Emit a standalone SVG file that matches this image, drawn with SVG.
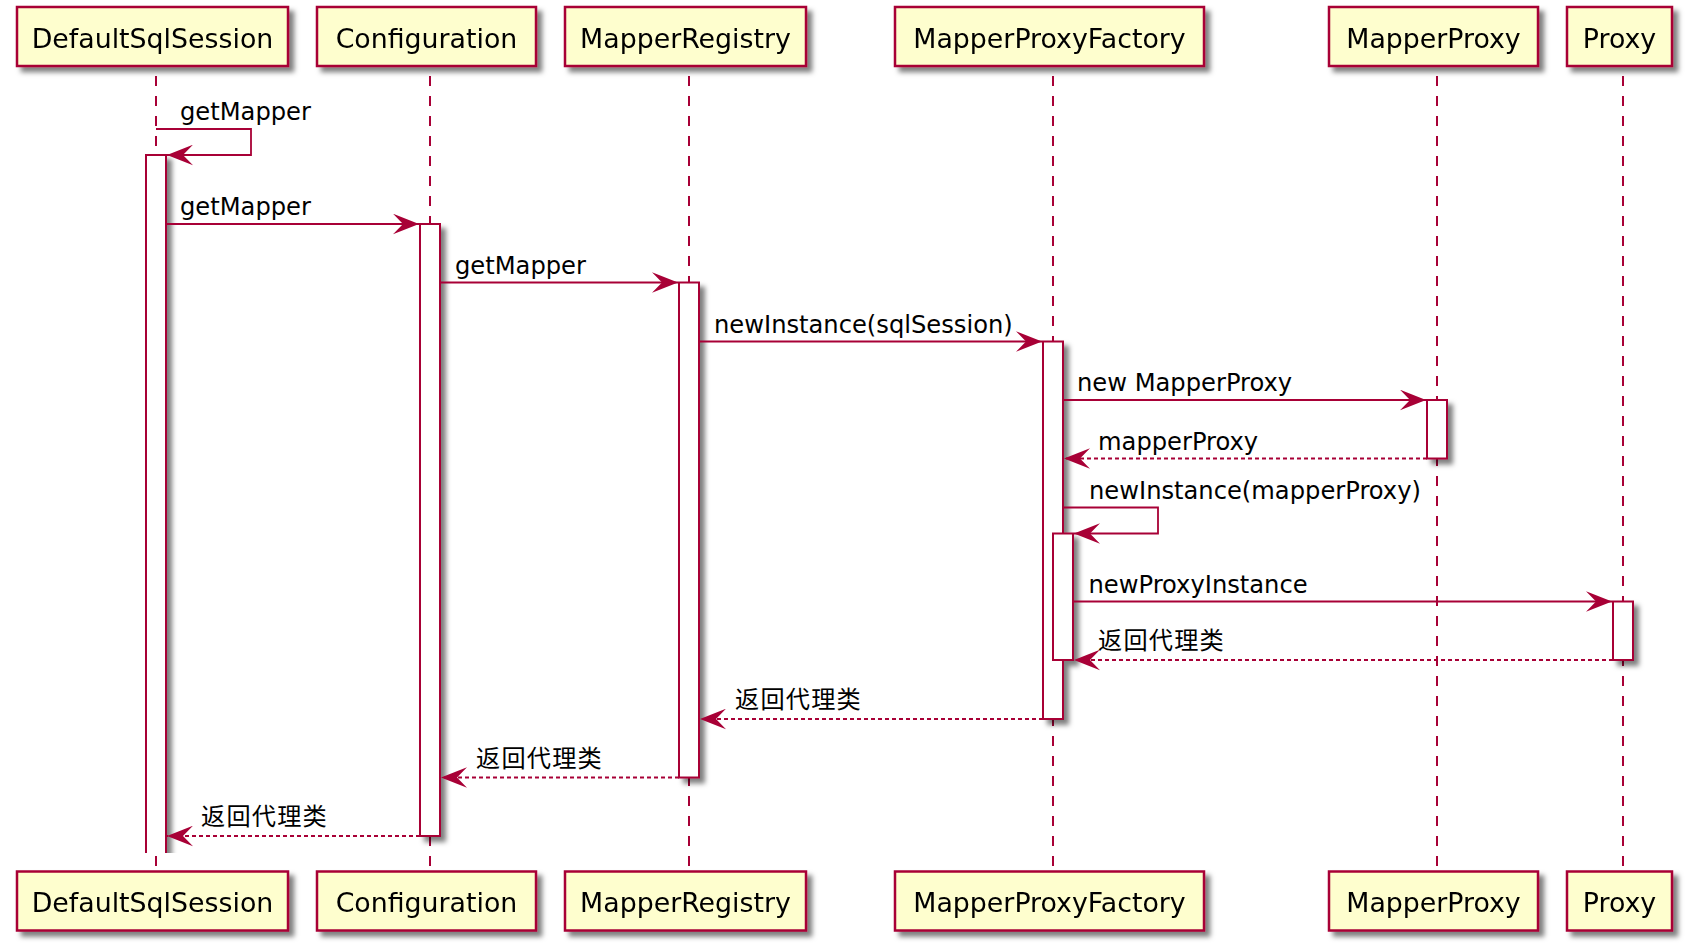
<svg xmlns="http://www.w3.org/2000/svg" width="1692" height="951" viewBox="0 0 1692 951">
<style>
.box{fill:#FEFECE;stroke:#A80036;stroke-width:2.5}
.bar{fill:#FFFFFF;stroke:#A80036;stroke-width:2}
.life{stroke:#A80036;stroke-width:2;stroke-dasharray:10,10;fill:none}
.msg{stroke:#A80036;stroke-width:1.8;fill:none}
.ret{stroke:#A80036;stroke-width:1.8;fill:none;stroke-dasharray:4,3}
.pt{font-family:"DejaVu Sans","Noto Sans CJK SC",sans-serif;font-size:26.8px;fill:#000;text-anchor:middle}
.mt{font-family:"DejaVu Sans","Noto Sans CJK SC",sans-serif;font-size:24.2px;fill:#000}
.cj{font-family:"Noto Sans CJK SC",sans-serif;font-size:24.2px;fill:#000;letter-spacing:1.2px}
</style>
<defs>
<filter id="sh" filterUnits="userSpaceOnUse" x="0" y="0" width="1692" height="951">
<feDropShadow dx="5" dy="5" stdDeviation="2.8" flood-color="#000" flood-opacity="0.5"/>
</filter>
<clipPath id="dssclip"><rect x="0" y="0" width="400" height="853"/></clipPath>
<marker id="ah" viewBox="0 0 26 21" refX="26" refY="10.5" markerWidth="26" markerHeight="21" markerUnits="userSpaceOnUse" orient="auto">
<path d="M0,0.2 L26,10.5 L0,20.8 L10,10.5 Z" fill="#A80036"/>
</marker>
</defs>
<rect width="1692" height="951" fill="#FFFFFF"/>

<g id="lifelines">
<line class="life" x1="156" y1="76" x2="156" y2="867"/>
<line class="life" x1="430" y1="76" x2="430" y2="867"/>
<line class="life" x1="689" y1="76" x2="689" y2="867"/>
<line class="life" x1="1053" y1="76" x2="1053" y2="867"/>
<line class="life" x1="1437" y1="76" x2="1437" y2="867"/>
<line class="life" x1="1623" y1="76" x2="1623" y2="867"/>
</g>

<g id="act-dss" clip-path="url(#dssclip)">
<g filter="url(#sh)">
<rect x="146" y="155" width="20" height="698" fill="#FFFFFF"/>
<path d="M146,853 V155 H166 V853" fill="none" stroke="#A80036" stroke-width="2"/>
</g>
</g>
<g id="activations" filter="url(#sh)">
<rect id="act-config" class="bar" x="420" y="224" width="20" height="612"/>
<rect id="act-registry" class="bar" x="679" y="282.5" width="20" height="495"/>
<rect id="act-factory" class="bar" x="1043" y="341.5" width="20" height="377.5"/>
<rect id="act-factory2" class="bar" x="1053" y="533.5" width="20" height="126.5"/>
<rect id="act-mapperproxy" class="bar" x="1427" y="400" width="20" height="58.5"/>
<rect id="act-proxy" class="bar" x="1613" y="601.5" width="20" height="58.5"/>
</g>

<g id="connectors">
<path class="msg" d="M156,129 H251 V155 H167" marker-end="url(#ah)"/>
<line class="msg" x1="166" y1="224" x2="419" y2="224" marker-end="url(#ah)"/>
<line class="msg" x1="440" y1="282.5" x2="678" y2="282.5" marker-end="url(#ah)"/>
<line class="msg" x1="699" y1="341.5" x2="1042" y2="341.5" marker-end="url(#ah)"/>
<line class="msg" x1="1063" y1="400" x2="1426" y2="400" marker-end="url(#ah)"/>
<line class="ret" x1="1427" y1="458.5" x2="1064" y2="458.5" marker-end="url(#ah)"/>
<path class="msg" d="M1063,507.5 H1158 V533.5 H1074" marker-end="url(#ah)"/>
<line class="msg" x1="1073" y1="601.5" x2="1612" y2="601.5" marker-end="url(#ah)"/>
<line class="ret" x1="1613" y1="660" x2="1074" y2="660" marker-end="url(#ah)"/>
<line class="ret" x1="1043" y1="719" x2="700" y2="719" marker-end="url(#ah)"/>
<line class="ret" x1="679" y1="777.5" x2="441" y2="777.5" marker-end="url(#ah)"/>
<line class="ret" x1="420" y1="836" x2="167" y2="836" marker-end="url(#ah)"/>
</g>

<g id="labels">
<text class="mt" x="180" y="120">getMapper</text>
<text class="mt" x="180" y="215">getMapper</text>
<text class="mt" x="455" y="273.5">getMapper</text>
<text class="mt" x="714" y="332.5">newInstance(sqlSession)</text>
<text class="mt" x="1077" y="391">new MapperProxy</text>
<text class="mt" x="1098" y="449.5">mapperProxy</text>
<text class="mt" x="1089" y="498.5">newInstance(mapperProxy)</text>
<text class="mt" x="1088.5" y="592.5">newProxyInstance</text>
<text class="cj" x="1098" y="649">返回代理类</text>
<text class="cj" x="735" y="708">返回代理类</text>
<text class="cj" x="476" y="766.5">返回代理类</text>
<text class="cj" x="201" y="825">返回代理类</text>
</g>

<g id="DefaultSqlSession" filter="url(#sh)">
<rect class="box" x="17" y="7" width="271" height="59"/>
<text class="pt" x="152.5" y="47.5">DefaultSqlSession</text>
<rect class="box" x="17" y="871.5" width="271" height="59"/>
<text class="pt" x="152.5" y="912">DefaultSqlSession</text>
</g>
<g id="Configuration" filter="url(#sh)">
<rect class="box" x="317" y="7" width="219" height="59"/>
<text class="pt" x="426.5" y="47.5">Configuration</text>
<rect class="box" x="317" y="871.5" width="219" height="59"/>
<text class="pt" x="426.5" y="912">Configuration</text>
</g>
<g id="MapperRegistry" filter="url(#sh)">
<rect class="box" x="565" y="7" width="241" height="59"/>
<text class="pt" x="685.5" y="47.5">MapperRegistry</text>
<rect class="box" x="565" y="871.5" width="241" height="59"/>
<text class="pt" x="685.5" y="912">MapperRegistry</text>
</g>
<g id="MapperProxyFactory" filter="url(#sh)">
<rect class="box" x="895" y="7" width="309" height="59"/>
<text class="pt" x="1049.5" y="47.5">MapperProxyFactory</text>
<rect class="box" x="895" y="871.5" width="309" height="59"/>
<text class="pt" x="1049.5" y="912">MapperProxyFactory</text>
</g>
<g id="MapperProxy" filter="url(#sh)">
<rect class="box" x="1329" y="7" width="209" height="59"/>
<text class="pt" x="1433.5" y="47.5">MapperProxy</text>
<rect class="box" x="1329" y="871.5" width="209" height="59"/>
<text class="pt" x="1433.5" y="912">MapperProxy</text>
</g>
<g id="Proxy" filter="url(#sh)">
<rect class="box" x="1567" y="7" width="105" height="59"/>
<text class="pt" x="1619.5" y="47.5">Proxy</text>
<rect class="box" x="1567" y="871.5" width="105" height="59"/>
<text class="pt" x="1619.5" y="912">Proxy</text>
</g>
</svg>
